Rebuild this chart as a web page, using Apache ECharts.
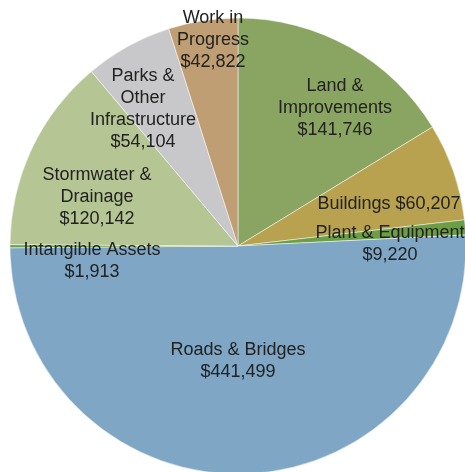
<!DOCTYPE html>
<html>
<head>
<meta charset="utf-8">
<script src="https://cdn.jsdelivr.net/npm/echarts@6/dist/echarts.min.js"></script>
<style>
  html, body { margin: 0; padding: 0; background: #fff; }
  #chart { width: 465px; height: 472px; }
</style>
</head>
<body>
<div id="chart"></div>
<script>
// Capital asset categories (clockwise from 12 o'clock)
const categories = [
  'Land & Improvements',
  'Buildings',
  'Plant & Equipment',
  'Roads & Bridges',
  'Intangible Assets',
  'Stormwater & Drainage',
  'Parks & Other Infrastructure',
  'Work in Progress'
];
const values = [141746, 60207, 9220, 441499, 1913, 120142, 54104, 42822];
// How each category name is broken across lines in its label
const labelNames = [
  'Land &\nImprovements',
  'Buildings',
  'Plant & Equipment',
  'Roads & Bridges',
  'Intangible Assets',
  'Stormwater &\nDrainage',
  'Parks &\nOther\nInfrastructure',
  'Work in\nProgress'
];
const colors = ['#8aa561', '#b8a24f', '#6c9e44', '#7fa6c4', '#6c9e44', '#b5c594', '#c8c8ca', '#bf9e74'];

// Where each label block is centred
const labelCentres = [
  [335, 108], [389, 204], [390, 244], [238, 361],
  [92, 261], [97, 197], [143, 109], [213, 40]
];

const fmt = v => '$' + v.toLocaleString('en-US');

const chart = echarts.init(document.getElementById('chart'));
chart.setOption({
  animation: false,
  series: [{
    type: 'pie',
    center: [238, 246],
    radius: [0, 228],
    startAngle: 90,
    clockwise: true,
    avoidLabelOverlap: false,
    itemStyle: { borderColor: '#ffffff', borderWidth: 0.5 },
    label: {
      show: true,
      position: 'inside',
      color: '#222222',
      fontFamily: 'Liberation Sans, Arial, sans-serif',
      fontSize: 18,
      lineHeight: 22,
      align: 'center',
      formatter: p => {
        const name = labelNames[p.dataIndex];
        if (p.dataIndex === 1) return name + ' ' + fmt(p.value);
        return name + '\n' + fmt(p.value);
      }
    },
    labelLine: { show: false },
    labelLayout: p => ({
      x: labelCentres[p.dataIndex][0],
      y: labelCentres[p.dataIndex][1],
      align: 'center',
      verticalAlign: 'middle'
    }),
    data: categories.map((c, i) => ({
      name: c,
      value: values[i],
      itemStyle: { color: colors[i] }
    }))
  }]
});
</script>
</body>
</html>
